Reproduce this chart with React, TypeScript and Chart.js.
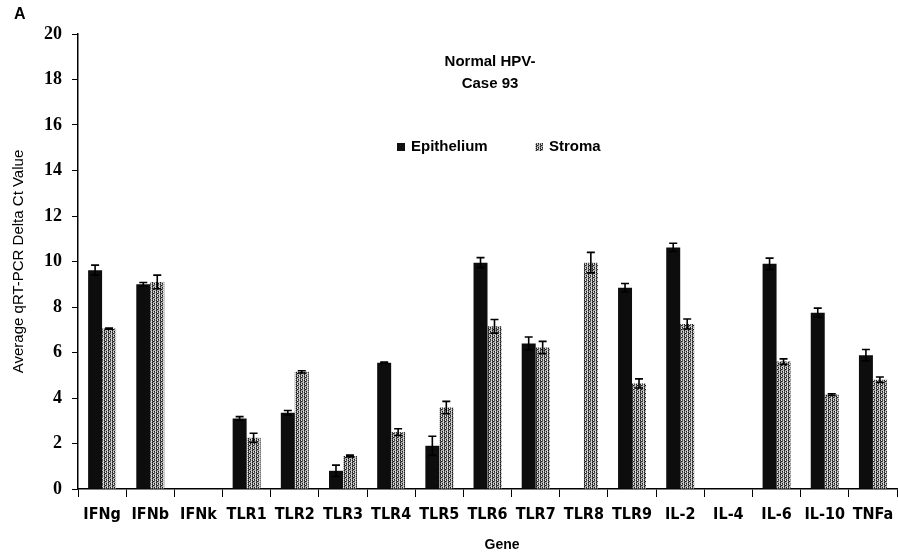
import React, { useEffect, useRef } from "react";
import { Chart, registerables } from "chart.js";

Chart.register(...registerables);

const genes = ["IFNg", "IFNb", "IFNk", "TLR1", "TLR2", "TLR3", "TLR4", "TLR5", "TLR6", "TLR7", "TLR8", "TLR9", "IL-2", "IL-4", "IL-6", "IL-10", "TNFa"];
const epithelium = [9.62, 9.0, 0, 3.1, 3.35, 0.8, 5.55, 1.9, 9.95, 6.4, 0, 8.85, 10.62, 0, 9.9, 7.75, 5.88];
const epitheliumErr = [0.22, 0.08, 0, 0.08, 0.1, 0.25, 0.03, 0.42, 0.22, 0.28, 0, 0.18, 0.18, 0, 0.25, 0.2, 0.25];
const stroma = [7.05, 9.1, 0, 2.25, 5.15, 1.45, 2.5, 3.58, 7.15, 6.22, 9.95, 4.64, 7.25, 0, 5.6, 4.15, 4.8];
const stromaErr = [0.03, 0.3, 0, 0.2, 0.05, 0.04, 0.15, 0.27, 0.3, 0.27, 0.45, 0.2, 0.22, 0, 0.12, 0.04, 0.12];
const yTicks = [0, 2, 4, 6, 8, 10, 12, 14, 16, 18, 20];
const titleLines = ["Normal HPV-", "Case 93"];
const seriesNames = ["Epithelium", "Stroma"];
const yTitle = "Average qRT-PCR Delta Ct Value";
const xTitle = "Gene";
const panelLabel = "A";

function makePattern(): CanvasPattern | string {
  const c = document.createElement("canvas");
  c.width = 4;
  c.height = 4;
  const g = c.getContext("2d");
  if (!g) return "#808080";
  const cols = ["#1a1a1a", "#e8e8e8", "#5a5a5a", "#b4b4b4"];
  for (let y = 0; y < 4; y++) {
    for (let x = 0; x < 4; x++) {
      g.fillStyle = cols[(x + 2 * y + ((x * y) % 3)) % 4];
      g.fillRect(x, y, 1, 1);
    }
  }
  const p = g.createPattern(c, "repeat");
  return p || "#808080";
}

const errorBars = {
  id: "errorBars",
  afterDatasetsDraw(chart: any) {
    const ctx = chart.ctx;
    const ys = chart.scales.y;
    const errs = [epitheliumErr, stromaErr];
    chart.data.datasets.forEach((ds: any, i: number) => {
      const meta = chart.getDatasetMeta(i);
      meta.data.forEach((el: any, j: number) => {
        const v = ds.data[j];
        const e = errs[i][j];
        if (!v || !e) return;
        const x = el.x;
        const yt = ys.getPixelForValue(v + e);
        const yb = ys.getPixelForValue(v - e);
        ctx.save();
        ctx.strokeStyle = "#000";
        ctx.lineWidth = 1.6;
        ctx.beginPath();
        ctx.moveTo(x, yt);
        ctx.lineTo(x, yb);
        ctx.moveTo(x - 4, yt);
        ctx.lineTo(x + 4, yt);
        ctx.moveTo(x - 4, yb);
        ctx.lineTo(x + 4, yb);
        ctx.stroke();
        ctx.restore();
      });
    });
  },
};

const annotations = {
  id: "annotations",
  afterDraw(chart: any) {
    const ctx = chart.ctx;
    ctx.save();
    ctx.fillStyle = "#000";
    ctx.textBaseline = "middle";
    ctx.textAlign = "center";
    ctx.font = "bold 15px 'Liberation Sans', sans-serif";
    ctx.fillText(titleLines[0], 490, 62);
    ctx.fillText(titleLines[1], 490, 84);
    // legend
    ctx.textAlign = "left";
    ctx.font = "bold 15px 'Liberation Sans', sans-serif";
    ctx.fillStyle = "#111";
    ctx.fillRect(397, 143, 8, 8);
    ctx.fillStyle = "#000";
    ctx.fillText(seriesNames[0], 411, 147);
    ctx.fillStyle = chart.data.datasets[1].backgroundColor;
    ctx.fillRect(535, 143, 8, 8);
    ctx.fillStyle = "#000";
    ctx.fillText(seriesNames[1], 549, 147);
    // panel label
    ctx.font = "bold 16px 'Liberation Sans', sans-serif";
    ctx.fillText(panelLabel, 14, 15);
    // x title
    ctx.textAlign = "center";
    ctx.font = "bold 14px 'Liberation Sans', sans-serif";
    ctx.fillText(xTitle, 502, 545);
    ctx.restore();
  },
};

export default function App() {
  const ref = useRef<HTMLCanvasElement | null>(null);
  useEffect(() => {
    if (!ref.current) return;
    const pattern = makePattern();
    const chart = new Chart(ref.current, {
      type: "bar",
      data: {
        labels: genes,
        datasets: [
          { label: seriesNames[0], data: epithelium, backgroundColor: "#0d0d0d", barPercentage: 1, categoryPercentage: 0.58 },
          { label: seriesNames[1], data: stroma, backgroundColor: pattern as any, barPercentage: 1, categoryPercentage: 0.58 },
        ],
      },
      options: {
        responsive: false,
        animation: false,
        devicePixelRatio: 1,
        layout: { padding: { top: 34, right: 1, left: 0, bottom: 0 } },
        plugins: { legend: { display: false }, tooltip: { enabled: false }, title: { display: false } },
        scales: {
          x: {
            offset: true,
            grid: { display: true, drawOnChartArea: false, drawTicks: true, tickLength: 8, color: "#000", offset: true },
            border: { display: true, color: "#000", width: 1.5 },
            ticks: {
              autoSkip: false,
              maxRotation: 0,
              padding: 8,
              color: "#000",
              font: { family: "'Liberation Sans Narrow', 'DejaVu Sans Condensed', sans-serif", weight: "bold", size: 16 },
            },
            afterFit: (s: any) => { s.height = 69; s.paddingRight = 0; s.paddingLeft = 0; },
          },
          y: {
            min: 0,
            max: 20,
            afterBuildTicks: (s: any) => { s.ticks = yTicks.map((v) => ({ value: v })); },
            grid: { display: true, drawOnChartArea: false, drawTicks: true, tickLength: 6, color: "#000" },
            border: { display: true, color: "#000", width: 1.5 },
            ticks: {
              padding: 10,
              color: "#000",
              font: { family: "'Liberation Serif', serif", weight: "bold", size: 18 },
            },
            title: {
              display: true,
              text: yTitle,
              color: "#000",
              font: { family: "'Liberation Sans', sans-serif", size: 15 },
              padding: { top: 10, bottom: 0 },
            },
            afterFit: (s: any) => { s.width = 78; s.paddingTop = 0; s.paddingBottom = 0; },
          },
        },
      },
      plugins: [errorBars, annotations],
    });
    return () => chart.destroy();
  }, []);
  return (
    <div style={{ position: "absolute", left: 0, top: 0, width: 898, height: 558, background: "#fff" }}>
      <canvas ref={ref} width={898} height={558} />
    </div>
  );
}
